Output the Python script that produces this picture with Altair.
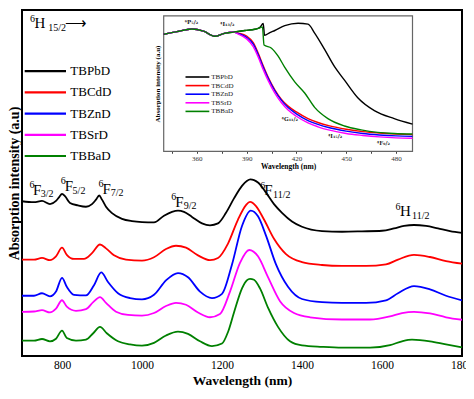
import altair as alt
import pandas as pd

SERIES = ["TBPbD", "TBCdD", "TBZnD", "TBSrD", "TBBaD"]
COLORS = ["#000000", "#ff0000", "#0000ff", "#ff00ff", "#008000"]

# ---- main NIR spectra (wavelength nm, offset absorption a.u.) ----
pbd_w = [700,730,750,770,785,793,800,808,820,840,860,875,885,893,900,910,925,950,975,1000,
         1030,1055,1075,1090,1105,1125,1150,1170,1190,1210,1230,1250,1262,1271,1280,1290,1310,1330,1350,1375,
         1400,1450,1500,1550,1600,1630,1655,1680,1710,1740,1770,1800]
pbd_v = [161,160,161.3,158,161.3,165.3,168.7,166,159.3,156.7,155.3,158,162.7,167,162.7,155.3,148.7,142.7,140.3,139.3,
         139,146,150,151.3,150,144.7,138,136,138,149,164,177,182,183.7,183,180.5,170,158,149,140,
         134.5,130,129.3,129.7,130.3,132.7,135.3,136.3,135.3,132.7,130,128]

cdd_w = [700,730,750,770,785,800,812,830,855,875,895,910,930,960,1000,1030,1060,1085,1110,1140,
         1170,1190,1215,1240,1260,1270,1285,1305,1330,1360,1400,1450,1500,1560,1610,1640,1680,1720,1760,1800]
cdd_v = [100.3,100.3,102,99.7,103.7,112.7,105.3,101,101,107,116,112,104.7,100.3,99.3,102.7,111.3,114.7,112.7,104.7,
         99.7,102,117,142,157,160.3,156,142,122,106,97.7,94.7,93.7,93.7,95.3,100.3,105.3,103,98.7,96]

znd_w = [700,730,750,770,785,800,812,830,860,880,898,915,940,970,1000,1030,1060,1090,1115,1145,
         1175,1200,1225,1250,1272,1290,1310,1335,1365,1400,1450,1500,1560,1610,1640,1680,1720,1760,1800]
znd_v = [62.7,62.7,65.3,62,67,81.3,72,63.7,63,73.7,87,77,65.3,60.3,59,63.7,78.7,86.3,82,67,
         60.3,64.7,95.3,135.3,151.3,145.3,125.3,95.3,72,59.3,56,55.3,55.3,58,65.3,72.7,69.3,62.7,58]

srd_w = [700,730,750,770,785,800,812,835,860,878,895,910,935,965,1000,1030,1060,1085,1110,1140,
         1170,1195,1220,1245,1268,1290,1315,1345,1380,1420,1500,1570,1620,1650,1680,1720,1760,1800]
srd_v = [46,46.3,47.7,45.3,49.3,58,51.3,47,48.7,56,61.3,55.3,46,42.7,42,44.7,52,55.3,53.3,45.3,
         40.3,43.7,67,97,110.3,103.7,82,57,44.7,40.3,38,38,41.3,44.7,46,44.3,40.3,37.7]

bad_w = [700,730,750,770,785,800,812,835,860,878,895,912,940,970,1000,1030,1060,1090,1115,1145,
         1175,1200,1215,1230,1250,1262,1270,1280,1295,1315,1340,1370,1400,1450,1500,1570,1620,1650,1675,1720,1760,1800]
bad_v = [16,16,17.7,15.3,18,26.3,18.7,16,17,23.7,30.3,23.7,15.3,12,10.7,13.7,21.3,25.3,23,15.3,
         10.3,13,25,45.3,70.3,78.7,80.3,79.3,70.3,50.3,30.3,15.3,11,9.5,8.7,8.7,11.3,15.3,17,15.3,12,9]

# ---- inset UV-Vis spectra ----
in_pbd_w = [340,348,357,364,371,376,382,389,395,398,400,400.8,404,407,413,421,427,431,437,443,449,457,467,479,490]
in_pbd_v = [121.7,124.5,127.3,125,119.7,122.5,124,125.7,127,129,133,120.7,123.5,125.7,130.7,133.3,132.3,123,106,88,74,55.7,42.3,34,28.3]

in_bad_w = [340,348,357,364,371,376,382,389,395,398,399.5,400.5,405,409,413,419,425,431,439,449,459,469,479,490]
in_bad_v = [121.7,124.5,127.3,125,119.7,122.5,124,125.7,127,128.5,129.5,110.7,107.3,99,87.3,72.3,60.7,45.7,34,26.3,22.3,19.7,18.5,18]

in_w = [340,348,357,364,371,376,382,385,390,394,397,400,403,407,411,415,420,427,433,440,450,460,470,480,490]
in_cdd_v = [121.7,124.5,127.3,125,119.7,122.5,124,123,120,113,102,89,77,64,54,47,41,34,30,26.5,23,20.5,19,18,17.3]
in_znd_v = [121.7,124.5,127.3,125,119.7,122.5,124,122.5,118.5,111.5,100.5,87.5,76,63,53,45.5,39,32,28,24.5,21,18.5,17,16,15.5]
in_srd_v = [121.7,124.5,127.3,125,119.7,122.5,124,122,117,109,98,85,73.5,60.5,50.5,43,36.5,29.5,25.5,22,18.5,16.5,15,14,13.5]

# ---- annotation texts ----
main_lbl_text = ["6", "F", "3/2", "6", "F", "5/2", "6", "F", "7/2", "6", "F", "9/2",
                 "6", "F", "11/2", "6", "H", "11/2", "6", "H", "15/2", "\u27f6"]
main_lbl_w = [718.6, 727.3, 747.1, 796.8, 806.7, 826.5, 891, 901, 922, 1073.4, 1083.3, 1104.4,
              1295.4, 1305.4, 1327.7, 1634, 1645.3, 1675, 719.8, 731, 765.7, 808]
main_lbl_v = [175, 167.7, 165, 179, 172, 169, 176, 169, 166, 162, 155.3, 152.5,
              174, 167, 164, 152, 145.3, 142.5, 348, 341.5, 338.5, 341.5]
main_lbl_fs = [10, 15, 10, 10, 15, 10, 10, 15, 10, 10, 15, 10,
               10, 15, 10, 10, 15, 10, 10, 15, 10, 15]

in_lbl_text = ["\u2076P\u2085/\u2082", "\u2074I\u2081\u2083/\u2082", "\u2074G\u2081\u2081/\u2082",
               "\u2074I\u2081\u2085/\u2082", "\u2074F\u2089/\u2082"]
in_lbl_w = [356.7, 378.3, 416, 443.3, 472.4]
in_lbl_v = [132, 130, 32, 14, 7]

# ---- build tables ----
def frame(names, ws, vs):
    rows = []
    for n, w, v in zip(names, ws, vs):
        for a, b in zip(w, v):
            rows.append({"series": n, "w": a, "v": b})
    return pd.DataFrame(rows)

main_df = frame(SERIES, [pbd_w, cdd_w, znd_w, srd_w, bad_w], [pbd_v, cdd_v, znd_v, srd_v, bad_v])
inset_df = frame(SERIES, [in_pbd_w, in_w, in_w, in_w, in_bad_w],
                 [in_pbd_v, in_cdd_v, in_znd_v, in_srd_v, in_bad_v]).rename(columns={"w": "wi", "v": "vi"})
main_lbl_df = pd.DataFrame({"t": main_lbl_text, "w": main_lbl_w, "v": main_lbl_v, "fs": main_lbl_fs})
in_lbl_df = pd.DataFrame({"t": in_lbl_text, "wi": in_lbl_w, "vi": in_lbl_v})
leg_df = pd.DataFrame({"series": SERIES, "row": list(range(len(SERIES)))})

W, H = 440, 346
SERIF = "'Liberation Serif', 'Times New Roman', serif"
color = alt.Color("series:N", scale=alt.Scale(domain=SERIES, range=COLORS), legend=None)

xs_main = alt.Scale(domain=[700, 1800], nice=False, zero=False)
ys_main = alt.Scale(domain=[0, 360], nice=False, zero=False)

# inset placement (pixels in the plot area)
IX0, IX1, IY0, IY1 = 141.7, 390.5, 5.8, 141.3
xs_in = alt.Scale(domain=[340, 490], range=[IX0, IX1], nice=False, zero=False)
ys_in = alt.Scale(domain=[0, 141], range=[IY1, IY0], nice=False, zero=False)

main_lines = alt.Chart(main_df).mark_line(interpolate="monotone", strokeWidth=1.8).encode(
    x=alt.X("w:Q", scale=xs_main,
            axis=alt.Axis(values=[800, 1000, 1200, 1400, 1600, 1800], format="d", ticks=False, domain=False, grid=False,
                          labelFont=SERIF, labelFontSize=11.5, labelColor="black", labelPadding=3,
                          labelFlush=False, title="Wavelength (nm)", titleFont=SERIF, titleFontSize=13.5,
                          titleFontWeight="bold", titleColor="black", titlePadding=3)),
    y=alt.Y("v:Q", scale=ys_main,
            axis=alt.Axis(labels=False, ticks=False, domain=False, grid=False,
                          title="Absorption intensity (a.u)", titleFont=SERIF, titleFontSize=14,
                          titleFontWeight="bold", titleColor="black", titlePadding=1)),
    color=color,
)

main_labels = alt.Chart(main_lbl_df).mark_text(align="left", baseline="alphabetic", font=SERIF, color="black").encode(
    x=alt.X("w:Q", scale=xs_main, axis=None),
    y=alt.Y("v:Q", scale=ys_main, axis=None),
    text="t:N",
    size=alt.Size("fs:Q", scale=None),
)

leg_y = alt.Y("row:Q", scale=alt.Scale(domain=[0, 4], range=[61.2, 146.0]), axis=None)
leg_lines = alt.Chart(leg_df).mark_rule(strokeWidth=2.2).encode(
    x=alt.value(2.7), x2=alt.value(44), y=leg_y, color=color)
leg_text = alt.Chart(leg_df).mark_text(align="left", baseline="middle", font=SERIF, fontSize=13, color="black").encode(
    x=alt.value(48.3), y=leg_y, text="series:N")

inset_bg = alt.Chart(pd.DataFrame({"k": [0]})).mark_rect(fill="white", stroke="#666666", strokeWidth=1.2).encode(
    x=alt.value(IX0), x2=alt.value(IX1), y=alt.value(IY0), y2=alt.value(IY1))

inset_lines = alt.Chart(inset_df).mark_line(interpolate="monotone", strokeWidth=1.4).encode(
    x=alt.X("wi:Q", scale=xs_in,
            axis=alt.Axis(orient="bottom", offset=IY1 - H, values=list(range(345, 490, 15)),
                          labelExpr="datum.value % 30 == 0 ? datum.label : ''",
                          tickSize=2, tickColor="#444444", domain=False, grid=False,
                          labelFont=SERIF, labelFontSize=7, labelColor="#333333", labelPadding=1,
                          labelFlush=False, labelOverlap=False,
                          title="Wavelength (nm)", titleFont=SERIF, titleFontSize=7.5, titleFontWeight="bold",
                          titleColor="black", titlePadding=1)),
    y=alt.Y("vi:Q", scale=ys_in,
            axis=alt.Axis(orient="left", offset=-IX0, labels=False, ticks=False, domain=False, grid=False,
                          title="Absorption intensity (a.u)", titleFont=SERIF, titleFontSize=7,
                          titleFontWeight="bold", titleColor="black", titlePadding=3)),
    color=color,
)

in_labels = alt.Chart(in_lbl_df).mark_text(align="center", baseline="alphabetic", font="'DejaVu Serif', serif",
                                           fontSize=5.5, fontWeight="bold", color="#222222").encode(
    x=alt.X("wi:Q", scale=xs_in, axis=None),
    y=alt.Y("vi:Q", scale=ys_in, axis=None),
    text="t:N",
)

in_leg_y = alt.Y("row:Q", scale=alt.Scale(domain=[0, 4], range=[67, 101.4]), axis=None)
in_leg_lines = alt.Chart(leg_df).mark_rule(strokeWidth=1.6).encode(
    x=alt.value(163.5), x2=alt.value(187.3), y=in_leg_y, color=color)
in_leg_text = alt.Chart(leg_df).mark_text(align="left", baseline="middle", font=SERIF, fontSize=7, color="#222222").encode(
    x=alt.value(189.3), y=in_leg_y, text="series:N")

chart = alt.layer(
    main_lines, main_labels, leg_lines, leg_text,
    inset_bg, inset_lines, in_labels, in_leg_lines, in_leg_text,
).resolve_scale(
    x="independent", y="independent", color="shared"
).properties(
    width=W, height=H,
    padding={"left": 14, "top": 2, "right": 4, "bottom": 35},
    autosize=alt.AutoSizeParams(type="none"),
    background="white",
).configure_view(stroke="black", strokeWidth=2)

chart.save("out.html", embed_options={"renderer": "svg", "actions": False})
